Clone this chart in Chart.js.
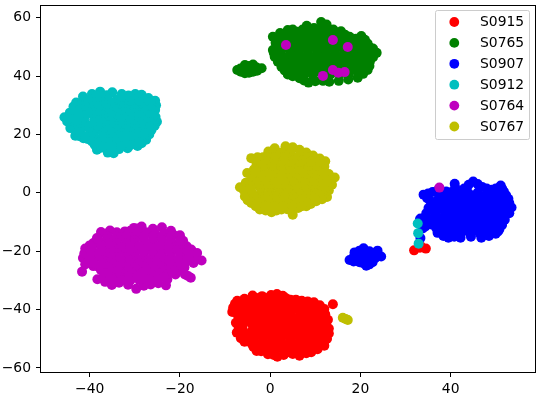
<!DOCTYPE html>
<html>
<head>
<meta charset="utf-8">
<script src="https://cdn.jsdelivr.net/npm/chart.js@4"></script>
<style>
  html, body { margin: 0; padding: 0; background: #fff; }
  canvas { display: block; }
</style>
</head>
<body>
<canvas id="chart" width="540" height="395"></canvas>
<script>
const seriesNames = ['S0915', 'S0765', 'S0907', 'S0912', 'S0764', 'S0767'];
const seriesColors = ['#ff0000', '#008000', '#0000ff', '#00bfbf', '#bf00bf', '#bfbf00'];
const xTickValues = [-40, -20, 0, 20, 40];
const yTickValues = [-60, -40, -20, 0, 20, 40, 60];

const s0915 = [
  [-3.9,-35.2],[-1.8,-35.4],[0.2,-35],[1.5,-34.7],[2.8,-35.3],
  [-2.6,-36],[-0.6,-36],[1.4,-36],[3.4,-36],
  [-7.3,-37],[-5.5,-37.2],[-3.6,-36.8],[-1.7,-37],[0.3,-36.9],[2.4,-37],[4.5,-36.6],[7,-37],[9.7,-37.5],
  [-6.9,-38.2],[-4.9,-38.2],[-2.9,-38.2],[-0.9,-38.2],[1.1,-38.2],[3.1,-38.2],[5.1,-38.2],[7.1,-38.2],[9.1,-38.2],
  [-8.2,-39.3],[-6.4,-39.1],[-4.6,-39.4],[-2.7,-39.2],[-0.7,-39.3],[1.3,-39.1],[3.4,-39.4],[5.5,-39.2],[7.6,-39.3],[9.5,-39.2],[11.2,-39.6],
  [-7.5,-40.5],[-5.5,-40.5],[-3.5,-40.5],[-1.5,-40.5],[0.5,-40.5],[2.5,-40.5],[4.5,-40.5],[6.5,-40.5],[8.5,-40.5],[10.5,-40.5],
  [-8.4,-40.8],[-7.2,-41.8],[-5.5,-41.6],[-3.6,-41.5],[-1.6,-41.7],[0.4,-41.6],[2.4,-41.5],[4.5,-41.7],[6.6,-41.6],[8.6,-41.5],[10.5,-41.7],[12.2,-41.6],
  [-7,-42.8],[-5,-42.8],[-3,-42.8],[-1,-42.8],[1,-42.8],[3,-42.8],[5,-42.8],[7,-42.8],[9,-42.8],[11,-42.8],
  [-7,-43.9],[-4.6,-43.9],[-2.7,-44],[-0.7,-43.8],[1.3,-43.9],[3.4,-44],[5.5,-43.9],[7.6,-43.8],[9.5,-44],[11.4,-43.9],[12.5,-44],
  [-6,-45],[-4,-45],[-2,-45],[0,-45],[2,-45],[4,-45],[6,-45],[8,-45],[10,-45],[12,-45],
  [-6.2,-46.2],[-3.6,-46.2],[-1.6,-46.1],[0.4,-46.3],[2.4,-46.2],[4.5,-46.1],[6.6,-46.3],[8.6,-46.2],[10.5,-46.1],[12.4,-46.3],
  [-6,-47.3],[-4,-47.3],[-2,-47.3],[0,-47.3],[2,-47.3],[4,-47.3],[6,-47.3],[8,-47.3],[10,-47.3],[12,-47.3],
  [-7.4,-47.9],[-5.5,-48.4],[-4.3,-48.5],[-2.7,-48.5],[-0.7,-48.4],[1.3,-48.6],[3.4,-48.5],[5.5,-48.4],[7.6,-48.6],[9.5,-48.5],[11.4,-48.4],[13,-48.2],
  [-5.5,-49.6],[-3.5,-49.6],[-1.5,-49.6],[0.5,-49.6],[2.5,-49.6],[4.5,-49.6],[6.5,-49.6],[8.5,-49.6],[10.5,-49.6],[12,-49.6],
  [-5.2,-50.9],[-3.6,-50.8],[-1.6,-50.9],[0.4,-50.7],[2.4,-50.8],[4.5,-50.9],[6.6,-50.8],[8.6,-50.7],[10.5,-50.9],[12.2,-50.5],
  [-4,-51.9],[-2,-51.9],[0,-51.9],[2,-51.9],[4,-51.9],[6,-51.9],[8,-51.9],[10,-51.9],
  [-3.7,-52.8],[-2.2,-53],[-0.7,-53.1],[1.3,-53],[3.4,-52.9],[5.5,-53.1],[7.6,-53],[9.5,-52.9],[12,-52.4],
  [-1,-54],[1,-54],[3,-54],[5,-54],[7,-54],
  [-2,-54.3],[0.2,-54.8],[1.6,-56.2],[3.5,-54.8],[5,-55.2],[6.5,-55.8],[9.1,-54.6],
  [-7.8,-38],[-5.7,-36.3],[5.7,-36.6],[8.3,-37.2],[11,-38.5],[12,-39.8],[12.8,-43.5],[13,-46.5],[12.6,-50],[10.5,-53.6],[8,-55],[3,-55.6],[0.8,-55.6],[-0.5,-55.3],[-3,-54.2],[-5.7,-51],[-6.5,-49.8],[-7,-46],[-7.6,-44.5],
  [-6.5,-38],[-6.6,-41],[-6,-43.4],[-6.4,-45.6],[-6.4,-47.6],
  [13.9,-38.2],[31.9,-19.7],[33.4,-18.3],[33.2,-18.8],[34.5,-19.1]
];

const s0765 = [
  [-7.3,42.1],[-6.6,42.6],[-5.6,43.8],[-5.6,41],[-4.7,42.5],[-3.8,44],[-3.8,41.5],[-2.9,41.9],[-1.9,42.7],[-6.5,41.5],[-4.7,43.5],[-4.7,41.2],[-3,43],
  [0.6,53.5],[3.9,55.8],[6,55.2],[8.1,57.3],[11.3,58.6],[12.5,57.7],[15.7,55.4],[17.6,53.5],[20.2,53.8],[21.6,51.2],[23.6,48],[22.1,45],[21.6,42.1],[19.4,39.5],[15.2,38.4],[13.1,38.1],[11.7,38.4],[8.5,37.8],[6.5,39.3],[3.9,40.6],[2.5,43.2],[1,46.7],[0.6,49],
  [2.2,54.8],[5,55],[7.2,56],[9.7,56.5],[14,56],[16.6,54.2],[19,52.8],[21,52.5],[22.8,49.5],[22.8,46.5],[22,43.5],[20.6,40.8],[17.3,38.9],[10,38.3],[7.5,38.5],[5,40],[3.2,42],[1.7,45],[0.8,48],[1.2,51.5],
  [21.8,48.8],[21.6,46.8],[22,50],[19.5,52.5],
  [5,56],[9,56],[11,56],[13,56],
  [4.2,54],[6.2,54.3],[8.2,55.3],[10.2,55],[12.2,55.6],[14.2,54.8],
  [3.5,53.3],[5.5,53.3],[7.5,53.3],[9.5,53.3],[11.5,53.3],[13.5,53.3],[15.5,53.3],[17.5,53.3],
  [2.5,52.6],[4.6,52],[6.6,52.3],[8.6,52.4],[10.6,52.1],[12.6,52.5],[14.6,52.2],[16.6,52],[18.6,51.8],
  [2.4,51.2],[4.4,51.2],[6.4,51.2],[8.4,51.2],[10.4,51.2],[12.4,51.2],[14.4,51.2],[16.4,51.2],[18.4,51.2],[20.2,51.2],
  [1.4,50.5],[3.4,50],[5.4,50],[7.4,49.9],[9.4,50.1],[11.4,49.9],[13.4,50],[15.4,50.1],[17.4,49.9],[19.4,49.8],[21,49.8],
  [2.4,49],[4.4,49],[6.4,49],[8.4,49],[10.4,49],[12.4,49],[14.4,49],[16.4,49],[18.4,49],[20.4,49],
  [2.2,47.8],[4.4,47.7],[6.4,47.8],[8.4,47.6],[10.4,47.8],[12.4,47.7],[14.4,47.6],[16.4,47.8],[18.4,47.7],[20.4,47.6],[22.2,47.8],
  [3,46.6],[5,46.6],[7,46.6],[9,46.6],[11,46.6],[13,46.6],[15,46.6],[17,46.6],[19,46.6],[21,46.6],
  [3.2,45.4],[5.4,45.3],[7.4,45.5],[9.4,45.3],[11.4,45.4],[13.4,45.5],[15.4,45.3],[17.4,45.4],[19.4,45.5],[20.8,45.3],
  [4,44.2],[6,44.2],[8,44.2],[10,44.2],[12,44.2],[14,44.2],[16,44.2],[18,44.2],[20,44.2],
  [4.4,43],[6.4,43],[8.4,43.1],[10.4,42.9],[12.4,43],[14.4,43.1],[16.4,42.9],[18.4,43],[20.2,43],
  [5,42],[7,42],[9,42],[11,42],[13,42],[15,42],[17,42],[19,42],
  [5.6,41],[7.6,40.7],[9.4,40.6],[11.4,40.8],[13.4,40.7],[15.4,40.6],[17.4,40.6],[19.6,41]
];

const s0907 = [
  [17.6,-23],[18.7,-20.4],[20.7,-19],[23.8,-19.8],[24.6,-21.8],[21.3,-25],[19.8,-23.8],[22.7,-23.8],[20.5,-21.8],[22.2,-21],[19,-22],[21,-20.5],[23.3,-22.3],[21.3,-23],
  [18.5,-22],[19.5,-20.5],[20,-22.5],[22,-20],[22.5,-22.5],[23,-20.8],[20.5,-24],[22,-24.5],[18.5,-23.5],[19.8,-19.8],
  [33.2,-9.2],[33.3,-8.8],[33.8,-12.2],[33.3,-15.5],[34.3,-9.6],[34.4,-11.5],
  [34,-0.6],[36,0.3],[40.9,3.1],[45,3.9],[47,2],[43,1.5],[49.1,1.1],[51.1,2.5],[51.8,0.5],[52.8,-2],[53.5,-5],[52,-9.2],[50.5,-13.2],[46.8,-15.4],[42.2,-15.4],[39.5,-15.4],[37.1,-13.7],[35.1,-5.2],[35.1,-9],
  [35,-0.2],[37,0.7],[39,0.5],[41,1.8],[44,2.8],[46,3],[48,1.5],[50,1.5],[51.4,1.5],[52.3,-0.8],[53,-3.5],[53,-7],[51.4,-11],[50,-14],[48.5,-14.8],[44.5,-15],[40.8,-15],[38.4,-14.8],[36.8,-12],[35.7,-10.8],[34.6,-7],[35.5,-2.8],[34.8,-1.8],
  [52,-3],[52.4,-3.8],[52,-6.5],[51.8,-8],[50.8,-12.5],
  [38,-0.2],[40,0.2],[42,-0.3],[44,-0.1],[46,0.1],[48,-0.4],[50,-0.2],
  [37.5,-1.4],[39.5,-1.4],[41.5,-1.4],[43.5,-1.4],[45.5,-1.4],[47.5,-1.4],[49.5,-1.4],[51.5,-1.4],
  [37,-2.6],[39,-2.4],[41,-2.5],[43,-2.7],[45,-2.4],[47,-2.6],[49,-2.5],[51,-2.7],
  [36.5,-3.7],[38.5,-3.7],[40.5,-3.7],[42.5,-3.7],[44.5,-3.7],[46.5,-3.7],[48.5,-3.7],[50.5,-3.7],[51.5,-3.7],
  [36,-4.9],[38,-4.8],[40,-4.9],[42,-4.8],[44,-5],[46,-4.8],[48,-4.9],[50,-4.8],[52,-5],
  [36.5,-6],[38.5,-6],[40.5,-6],[42.5,-6],[44.5,-6],[46.5,-6],[48.5,-6],[50.5,-6],[51.5,-6],
  [36.7,-7.2],[39,-7.1],[41,-7.3],[43,-7.2],[45,-7.1],[47,-7.3],[49,-7.2],[51,-7.1],
  [36.5,-8.3],[38.5,-8.3],[40.5,-8.3],[42.5,-8.3],[44.5,-8.3],[46.5,-8.3],[48.5,-8.3],[50.5,-8.3],
  [36,-9.5],[38,-9.5],[40,-9.4],[42,-9.6],[44,-9.5],[46,-9.4],[48,-9.6],[50,-9.5],[51.2,-10.2],
  [37,-10.6],[39,-10.6],[41,-10.6],[43,-10.6],[45,-10.6],[47,-10.6],[49,-10.6],[50,-10.6],
  [37,-11.7],[39,-11.8],[41,-11.7],[43,-11.9],[45,-11.8],[47,-11.7],[49,-11.9],[50.5,-11.8],
  [38,-12.8],[40,-12.8],[42,-12.8],[44,-12.8],[46,-12.8],[48,-12.8],[49.5,-12.8],
  [38.4,-13.7],[40.4,-13.8],[42.4,-13.7],[44.4,-13.9],[46.4,-13.7],[48.4,-13.8]
];

const s0912 = [
  [32.7,-10.5],[32.8,-13.8],[32.9,-17.4],
  [-45.6,25.9],[-44.3,22.2],[-43.2,19.6],[-41.4,18.7],[-43.6,29.6],[-41.5,33],[-39.5,33.9],[-37.7,34.7],[-35,34.5],[-32.9,33.9],[-29.9,33.9],[-28.5,33.6],[-25.5,31.6],[-25.5,28.4],[-25.1,24.4],[-26.3,21.6],[-27.5,18.2],[-29.4,16.1],[-31.6,15.3],[-34.7,13.6],[-36,13.8],[-38.4,14.8],[-39.5,17.6],
  [-45,24.5],[-44.4,27.5],[-43,31],[-42.6,28],[-44,24.8],[-43,21],[-42.4,19.5],[-40.5,18.5],[-38.9,16.5],[-37.5,15.5],[-33.5,15],[-28.5,17],[-26.8,20],[-25.6,23],[-25.4,26],[-25.3,30],[-27,32.5],[-31.4,33.4],[-36.3,33.5],[-38.6,33.4],
  [-26.4,29.5],[-26.2,25],[-26,23],[-26.7,28],
  [-40,32],[-38,32.2],[-36,32.1],[-34,32],[-32,32.1],[-30,32],[-28,31.9],[-26.4,30.5],
  [-41,30.9],[-39,30.9],[-37,30.9],[-35,30.9],[-33,30.9],[-31,30.9],[-29,30.9],[-27,30.9],
  [-42,30.1],[-41,29.9],[-39,29.8],[-37,29.9],[-35,29.7],[-33,29.8],[-31,29.9],[-29,29.7],[-27,29.8],
  [-42,28.7],[-40,28.7],[-38,28.7],[-36,28.7],[-34,28.7],[-32,28.7],[-30,28.7],[-28,28.7],[-26.5,28.7],
  [-42.6,27.6],[-40,27.5],[-38,27.6],[-36,27.4],[-34,27.5],[-32,27.6],[-30,27.4],[-28,27.5],[-26.4,27],
  [-43,26.4],[-41,26.4],[-39,26.4],[-37,26.4],[-35,26.4],[-33,26.4],[-31,26.4],[-29,26.4],[-27,26.4],[-26,26.4],
  [-43.8,25.3],[-41.6,25.2],[-39,25.2],[-37,25.1],[-35,25.3],[-33,25.2],[-31,25.1],[-29,25.3],[-27,25.2],
  [-43,24],[-41,24],[-39,24],[-37,24],[-35,24],[-33,24],[-31,24],[-29,24],[-27,24],[-26.5,24],
  [-42.6,23],[-40,22.9],[-38,22.8],[-36,23],[-34,22.9],[-32,22.8],[-30,23],[-28,22.9],[-26.8,22.7],
  [-42,21.8],[-40,21.8],[-38,21.8],[-36,21.8],[-34,21.8],[-32,21.8],[-30,21.8],[-28,21.8],[-27,21.8],
  [-42.2,20.8],[-39.8,20.6],[-37,20.5],[-35,20.6],[-33,20.5],[-31,20.7],[-29,20.6],[-27.6,20.4],
  [-41,19.4],[-39,19.4],[-37,19.4],[-35,19.4],[-33,19.4],[-31,19.4],[-29,19.4],[-28,19.4],
  [-38,18.3],[-36,18.2],[-34,18.3],[-32,18.2],[-30,18.3],[-28.6,18.1],
  [-38,17.2],[-36,17.2],[-34,17.2],[-32,17.2],[-30,17.2],[-29,17.2],
  [-37,16],[-35,15.9],[-33,16],[-31,16.3]
];

const s0764 = [
  [3.5,50.7],[13.9,52.4],[17.2,50],[13.9,42.1],[15.1,41.2],[16.5,41.4],[11.7,40.1],
  [37.5,1.8],
  [-41.7,-27],[-41.5,-22.3],[-41,-19.1],[-38.3,-29.6],[-36.6,-30.5],[-35.1,-31.6],[-29.7,-32.9],[-26.5,-31.4],[-23.1,-31.7],[-22.8,-29.7],[-18.9,-28],[-18.2,-28.5],[-17.6,-29.1],[-15.2,-23.2],[-16.2,-20.6],[-17,-24],[-18.5,-18.3],[-20,-14.5],[-24,-11.8],[-28.5,-11.5],[-30.2,-12],[-32.2,-13.2],[-35.5,-12.9],[-37.5,-13.4],[-39.2,-17.2],[-39.2,-25.1],
  [-41,-24.5],[-41.2,-20.8],[-40,-18],[-38.4,-15.5],[-36.5,-14],[-34,-13.5],[-31,-13],[-29.3,-12.2],[-26,-12.3],[-22,-13],[-19.3,-16.4],[-17.5,-19.4],[-16.8,-22.5],[-17,-21],[-37,-29],[-33.5,-30.8],[-31.5,-31.5],[-28,-31.8],[-24.8,-31],[-21,-28],[-20,-26.5],[-19,-25.6],
  [-33.5,-14.5],[-31.5,-14.2],[-29.5,-13.8],[-27.5,-13.5],[-25.5,-13.9],[-23.5,-13.8],[-21.5,-14.3],
  [-36,-15],[-34,-15],[-32,-15],[-30,-15],[-28,-15],[-26,-15],[-24,-15],[-22,-15],
  [-38,-16.2],[-36,-16],[-34,-16.3],[-32,-16.1],[-30,-16.2],[-28,-16],[-26,-16.3],[-24,-16.1],[-22,-16.2],[-20,-16.4],
  [-38,-17.3],[-36,-17.3],[-34,-17.3],[-32,-17.3],[-30,-17.3],[-28,-17.3],[-26,-17.3],[-24,-17.3],[-22,-17.3],[-20,-17.3],
  [-39.5,-18.6],[-37,-18.5],[-35,-18.4],[-33,-18.6],[-31,-18.5],[-29,-18.4],[-27,-18.6],[-25,-18.5],[-23,-18.4],[-21,-18.6],[-19.4,-18.7],
  [-39.5,-19.6],[-37.5,-19.6],[-35.5,-19.6],[-33.5,-19.6],[-31.5,-19.6],[-29.5,-19.6],[-27.5,-19.6],[-25.5,-19.6],[-23.5,-19.6],[-21.5,-19.6],[-19.5,-19.6],[-18,-19.6],
  [-40,-20.8],[-38,-20.8],[-36,-20.9],[-34,-20.7],[-32,-20.8],[-30,-20.9],[-28,-20.7],[-26,-20.8],[-24,-20.9],[-22,-20.7],[-20,-20.8],[-18.4,-21.2],
  [-40,-22],[-38,-22],[-36,-22],[-34,-22],[-32,-22],[-30,-22],[-28,-22],[-26,-22],[-24,-22],[-22,-22],[-20,-22],[-18,-22],
  [-39.8,-23],[-37,-23.1],[-35,-23],[-33,-23.2],[-31,-23.1],[-29,-23],[-27,-23.2],[-25,-23.1],[-23,-23],[-21,-23.2],[-19,-23.2],
  [-39,-24.2],[-37,-24.2],[-35,-24.2],[-33,-24.2],[-31,-24.2],[-29,-24.2],[-27,-24.2],[-25,-24.2],[-23,-24.2],[-21,-24.2],[-19,-24.2],
  [-38,-25.4],[-36,-25.4],[-34,-25.3],[-32,-25.5],[-30,-25.4],[-28,-25.3],[-26,-25.5],[-24,-25.4],[-22,-25.3],[-20.5,-25.2],
  [-37.5,-26.5],[-35.5,-26.5],[-33.5,-26.5],[-31.5,-26.5],[-29.5,-26.5],[-27.5,-26.5],[-25.5,-26.5],[-23.5,-26.5],[-21.5,-26.5],
  [-36.5,-27.7],[-34.5,-27.6],[-32.5,-27.8],[-30.5,-27.7],[-28.5,-27.6],[-26.5,-27.8],[-24.5,-27.7],[-22.5,-27.6],
  [-35.5,-28.8],[-33.5,-28.8],[-31.5,-28.8],[-29.5,-28.8],[-27.5,-28.8],[-25.5,-28.8],[-23.5,-28.8],
  [-35,-29.7],[-33,-29.9],[-31,-30],[-29,-29.9],[-27,-29.8],[-25,-29.9]
];

const s0767 = [
  [16.1,-42.8],[16.7,-43.2],[17.2,-43.6],
  [-4.2,11.9],[-1.6,12.2],[-5.1,6.8],[-6.7,1.9],[-5.6,-1.2],[-4.2,-3.5],[-2.3,-5.7],[0.3,-6.6],[2.5,-5.7],[5,-7.5],[8,-4.6],[10.2,-2.9],[12.6,-1.4],[13.7,2.8],[14.3,5.3],[12,7.3],[12.2,10.8],[9.5,12.8],[6.5,14.8],[5,15.6],[3.4,16],[1,15.3],
  [-5.4,3.5],[-5.8,0.8],[-5,-2.5],[-3.2,-4.6],[-1,-6],[1.4,-6],[3.8,-5.6],[6.2,-5.2],[9,-3.8],[11.5,-2.2],[13,0.8],[13.5,4],[13,6.5],[12,9],[11,11.8],[8,13.8],[-0.4,14.2],[-2.8,12.2],
  [0.6,13.5],[2.5,13.8],[4.5,13.7],[6.5,13],[8.5,12],
  [-1,12.3],[1,12.3],[3,12.3],[5,12.3],[7,12.3],[9,12.3],
  [-3,10.3],[-1,10.9],[1,11],[3,11.1],[5,11],[7,11],[9,10.8],[10.6,10.4],
  [-3,9.7],[-1,9.7],[1,9.7],[3,9.7],[5,9.7],[7,9.7],[9,9.7],[11,9.7],
  [-3.6,8],[-1.6,8.4],[0.4,8.5],[2.4,8.4],[4.4,8.5],[6.4,8.6],[8.4,8.4],[10.4,8.3],
  [-3.5,7.2],[-1.5,7.2],[0.5,7.2],[2.5,7.2],[4.5,7.2],[6.5,7.2],[8.5,7.2],[10.5,7.2],
  [-3.5,6.1],[-1.5,6],[0.5,6.1],[2.5,5.9],[4.5,6],[6.5,6.1],[8.5,5.9],[10.5,6],[12.4,5.6],
  [-4,4.8],[-2,4.8],[0,4.8],[2,4.8],[4,4.8],[6,4.8],[8,4.8],[10,4.8],[12,4.8],
  [-4.8,3.6],[-2.8,3.6],[-0.8,3.5],[1.2,3.7],[3.2,3.6],[5.2,3.5],[7.2,3.7],[9.2,3.6],[11.2,3.5],[12.6,3.4],
  [-4.5,2.4],[-2.5,2.4],[-0.5,2.4],[1.5,2.4],[3.5,2.4],[5.5,2.4],[7.5,2.4],[9.5,2.4],[11.5,2.4],[12.5,2.4],
  [-4.4,1.2],[-2,1.2],[0,1.3],[2,1.1],[4,1.2],[6,1.3],[8,1.1],[10,1.2],[12,1.1],
  [-4,0],[-2,0],[0,0],[2,0],[4,0],[6,0],[8,0],[10,0],[11.5,0],
  [-3.6,-1.1],[-1,-1.2],[1,-1.1],[3,-1.3],[5,-1.2],[7,-1.1],[9,-1.3],[11,-1],
  [-3,-2.3],[-1,-2.3],[1,-2.3],[3,-2.3],[5,-2.3],[7,-2.3],[9,-2.3],[10,-2.3],
  [-2.4,-3.4],[-0.2,-3.5],[2,-3.4],[4,-3.6],[6,-3.5],[8,-3.3],
  [-1,-4.6],[1,-4.6],[3,-4.6],[5,-4.6],[7,-4.6]
];

const seriesPoints = [s0915, s0765, s0907, s0912, s0764, s0767];

// la leyenda de matplotlib va dentro del area, se dibuja a mano
const legendBox = {
  id: 'legendBox',
  afterDraw(chart) {
    const { ctx, chartArea: a } = chart;
    ctx.save();
    ctx.strokeStyle = '#000';
    ctx.lineWidth = 1;
    ctx.strokeRect(a.left - 0.5, a.top + 0.5, a.right - a.left + 1, a.bottom - a.top);

    ctx.beginPath();
    ctx.roundRect(435.5, 10.5, 94, 129, 2);
    ctx.fillStyle = 'rgba(255,255,255,0.8)';
    ctx.fill();
    ctx.strokeStyle = '#cccccc';
    ctx.stroke();

    ctx.font = "13.9px 'DejaVu Sans'";
    ctx.textBaseline = 'middle';
    seriesNames.forEach((name, i) => {
      const y = 22 + i * 20.9;
      ctx.beginPath();
      ctx.arc(454.3, y, 4.9, 0, Math.PI * 2);
      ctx.fillStyle = seriesColors[i];
      ctx.fill();
      ctx.fillStyle = '#000';
      ctx.fillText(name, 480, y + 0.5);
    });
    ctx.restore();
  }
};

const axisTicks = {
  color: '#000',
  font: { family: "'DejaVu Sans'", size: 13.9 },
  maxRotation: 0,
  autoSkip: false,
  callback: v => String(v).replace('-', '\u2212')
};

new Chart(document.getElementById('chart'), {
  type: 'scatter',
  data: {
    datasets: seriesNames.map((name, i) => ({
      label: name,
      data: seriesPoints[i].map(p => ({ x: p[0], y: p[1] })),
      backgroundColor: seriesColors[i],
      borderWidth: 0,
      pointRadius: 5,
      order: seriesNames.length - i // en Chart.js el order mas bajo queda encima
    }))
  },
  plugins: [legendBox],
  options: {
    responsive: false,
    animation: false,
    layout: { padding: { top: 3, right: 4, left: 0, bottom: 0 } },
    plugins: { legend: { display: false }, tooltip: { enabled: false } },
    scales: {
      x: {
        type: 'linear',
        min: -50.8,
        max: 58.7,
        afterBuildTicks: s => { s.ticks = xTickValues.map(value => ({ value })); },
        afterFit: s => { s.height = 23; s.paddingLeft = 0; s.paddingRight = 0; },
        grid: { drawOnChartArea: false, color: '#000', tickLength: 5 },
        border: { display: false },
        ticks: { ...axisTicks, padding: 4 }
      },
      y: {
        type: 'linear',
        min: -61.4,
        max: 64.4,
        afterBuildTicks: s => { s.ticks = yTickValues.map(value => ({ value })); },
        afterFit: s => { s.width = 41; s.paddingTop = 0; s.paddingBottom = 0; },
        grid: { drawOnChartArea: false, color: '#000', tickLength: 5 },
        border: { display: false },
        ticks: { ...axisTicks, padding: 5 }
      }
    }
  }
});
</script>
</body>
</html>
